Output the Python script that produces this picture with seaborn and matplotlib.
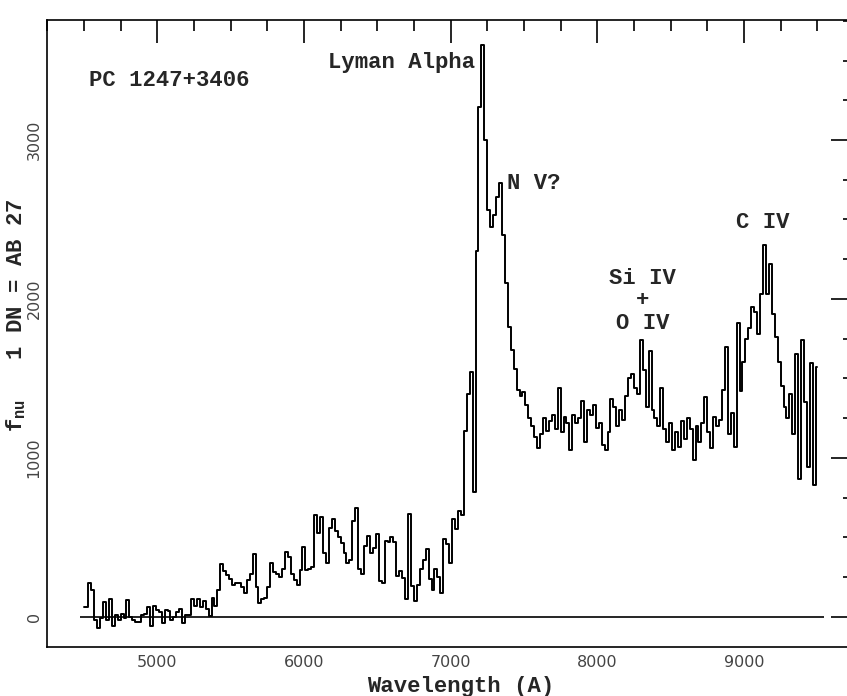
import numpy as np
import pandas as pd
import matplotlib
matplotlib.use("Agg")
import matplotlib.pyplot as plt
import seaborn as sns
from matplotlib.ticker import MultipleLocator

# spectrum, 20 A bins starting at 4500 A
wave_start = 4500
wave_step = 20
flux = [
    60, 60, 210, 170, -20,      -70, -10, 95, -20, 110,
    -60, 10, -20, 20, -10,      105, 0, -20, -35, -30,
    10, 20, 60, -60, 70,        40, 30, -40, 40, 35,
    -20, 0, 30, 50, -40,        10, 10, 115, 70, 110,
    60, 100, 50, 5, 120,        70, 170, 330, 290, 260,
    240, 200, 215, 210, 190,    150, 230, 270, 395, 190,
    84, 110, 120, 190, 336,     280, 270, 252, 300, 410,
    378, 270, 230, 200, 294,    440, 294, 300, 315, 640,
    525, 630, 400, 340, 560,    613, 540, 500, 466, 400,
    340, 360, 600, 686, 300,    267, 445, 510, 403, 430,
    518, 225, 214, 477, 470,    500, 470, 255, 288, 245,
    110, 645, 193, 100, 200,    300, 360, 425, 235, 170,
    300, 250, 150, 487, 460,    340, 613, 550, 665, 640,
    1170, 1400, 1540, 783, 2300, 3206, 3600, 3000, 2560, 2450,
    2530, 2640, 2727, 2400, 2100, 1822, 1680, 1560, 1424, 1390,
    1414, 1330, 1250, 1200, 1130, 1060, 1150, 1250, 1170, 1230,
    1270, 1180, 1440, 1160, 1260, 1220, 1050, 1270, 1220, 1250,
    1360, 1100, 1300, 1270, 1330, 1190, 1220, 1080, 1050, 1160,
    1370, 1320, 1200, 1300, 1240, 1390, 1500, 1530, 1440, 1400,
    1740, 1550, 1320, 1670, 1300, 1250, 1200, 1440, 1180, 1100,
    1220, 1050, 1160, 1070, 1230, 1120, 1250, 1180, 985, 1200,
    1100, 1220, 1380, 1160, 1060, 1260, 1200, 1240, 1430, 1700,
    1150, 1280, 1069, 1850, 1420, 1600, 1750, 1820, 1950, 1920,
    1780, 2034, 2338, 2034, 2220, 1908, 1760, 1600, 1450, 1320,
    1250, 1400, 1150, 1656, 870, 1740, 1350, 943, 1594, 830,
    1570,
]
wavelength = wave_start + wave_step * np.arange(len(flux))

# line labels
line_labels = ["Lyman Alpha", "N V?", "Si IV", "+", "O IV", "C IV"]
label_wave = [7166, 7384, 8310, 8310, 8310, 9125]
label_flux = [3489, 2728, 2130, 1991, 1845, 2482]
label_ha = ["right", "left", "center", "center", "center", "center"]

object_name = "PC 1247+3406"
zero_line = (4475, 9545)

df = pd.DataFrame({"wavelength": wavelength, "flux": flux})

sns.set_style("white")
plt.rcParams["font.family"] = ["DejaVu Sans"]
plt.rcParams["mathtext.fontset"] = "custom"
plt.rcParams["mathtext.rm"] = "Liberation Mono"
plt.rcParams["mathtext.bf"] = "Liberation Mono:bold"

mono = dict(family="Liberation Mono", weight="bold", size=16)

fig = plt.figure(figsize=(8.47, 6.96), dpi=100)
ax = fig.add_axes([0.0558, 0.0704, 0.9524, 0.9009])

sns.lineplot(data=df, x="wavelength", y="flux", ax=ax, color="black",
             lw=1.4, drawstyle="steps-mid", estimator=None)
ax.hlines(0, zero_line[0], zero_line[1], color="black", lw=1.2)

ax.set_xlim(4250, 9750)
ax.set_ylim(-190, 3755)

ax.xaxis.set_major_locator(MultipleLocator(1000))
ax.xaxis.set_minor_locator(MultipleLocator(250))
ax.yaxis.set_major_locator(MultipleLocator(1000))
ax.yaxis.set_minor_locator(MultipleLocator(250))
ax.tick_params(which="both", direction="in", top=True, right=True,
               width=1.2, color="black", labelsize=11.5, labelcolor="#444444")
ax.tick_params(which="major", length=16.5)
ax.tick_params(which="minor", length=8)
ax.tick_params(axis="x", pad=6)
ax.tick_params(axis="y", pad=4)
plt.setp(ax.get_yticklabels(), rotation=90, va="center")

for s in ax.spines.values():
    s.set_linewidth(1.2)
    s.set_color("black")

ax.set_xlabel("Wavelength (A)", **mono)
ax.set_ylabel(r"$\mathbf{f}_{\mathbf{nu}}$   1 DN = AB 27", **mono)
ax.xaxis.set_label_coords(0.513, -0.046)
ax.yaxis.set_label_coords(-0.024, 0.5295)

for t, x, y, ha in zip(line_labels, label_wave, label_flux, label_ha):
    ax.text(x, y, t, ha=ha, va="center", **mono)
ax.text(4534, 3375, object_name, ha="left", va="center", **mono)

fig.savefig("out.png", dpi=100, facecolor="white")
